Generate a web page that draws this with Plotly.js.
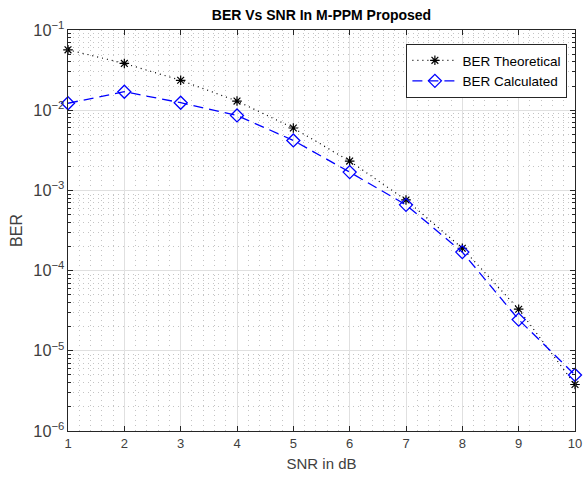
<!DOCTYPE html>
<html>
<head>
<meta charset="utf-8">
<script src="https://cdn.plot.ly/plotly-3.0.1.min.js"></script>
<style>html,body{margin:0;padding:0;background:#fff;}#chart{width:583px;height:482px;}</style>
</head>
<body>
<div id="chart"></div>
<script>
const snrDb = [1, 2, 3, 4, 5, 6, 7, 8, 9, 10];
const berTheoretical = [0.0566, 0.0383, 0.0236, 0.0130, 0.0060, 0.00232, 0.00076, 0.00019, 0.000033, 0.0000038];
const berCalculated = [0.0122, 0.0170, 0.0124, 0.0086, 0.0042, 0.00169, 0.00066, 0.00017, 0.0000245, 0.0000050];
const xTicks = [1, 2, 3, 4, 5, 6, 7, 8, 9, 10];

const font = 'Liberation Sans, Arial, Helvetica, sans-serif';
const traces = [
  {
    x: snrDb, y: berTheoretical, name: 'BER Theoretical', mode: 'lines+markers', cliponaxis: false,
    line: {color: '#000000', dash: '1px,4px', width: 1.2},
    marker: {symbol: 'asterisk-open', size: 8, color: '#000000', line: {color: '#000000', width: 1.2}}
  },
  {
    x: snrDb, y: berCalculated, name: 'BER Calculated', mode: 'lines+markers', cliponaxis: false,
    line: {color: '#0000ff', dash: '10px,6px', width: 1.3},
    marker: {symbol: 'diamond-open', size: 10, color: '#0000ff', line: {color: '#0000ff', width: 1.3}}
  }
];
const layout = {
  width: 583, height: 482,
  margin: {l: 68, r: 8, t: 30, b: 51},
  paper_bgcolor: '#ffffff', plot_bgcolor: '#ffffff',
  font: {family: font, color: '#262626', size: 13},
  title: {text: '<b>BER Vs SNR In M-PPM Proposed</b>', x: 0.5, xref: 'paper', y: 0.978, yanchor: 'top', font: {size: 14, color: '#000000', family: font}},
  showlegend: true,
  legend: {x: 0.985, xanchor: 'right', y: 0.965, yanchor: 'top', bgcolor: '#ffffff', bordercolor: '#262626', borderwidth: 1, itemwidth: 45, font: {size: 13.5, color: '#000000', family: font}, tracegroupgap: 0},
  xaxis: {
    range: [1, 10], tickvals: xTicks, ticktext: xTicks.map(String),
    ticks: 'inside', ticklen: 5, tickcolor: '#262626', tickfont: {size: 13, color: '#404040'},
    showline: true, linecolor: '#262626', linewidth: 1, mirror: 'ticks',
    showgrid: true, gridcolor: '#e0e0e0', gridwidth: 1, zeroline: false,
    minor: {dtick: 0.2, showgrid: true, gridcolor: '#c4c4c4', griddash: '1px,4px', gridwidth: 1},
    title: {text: 'SNR in dB', font: {size: 15, color: '#404040'}, standoff: 8}
  },
  yaxis: {
    type: 'log', range: [-6, -1], dtick: 1, exponentformat: 'power',
    ticks: 'inside', ticklen: 5, tickcolor: '#262626', tickfont: {size: 13, color: '#404040'},
    showline: true, linecolor: '#262626', linewidth: 1, mirror: 'ticks',
    showgrid: true, gridcolor: '#e0e0e0', gridwidth: 1, zeroline: false,
    minor: {dtick: 'D1', showgrid: true, gridcolor: '#c4c4c4', griddash: '1px,4px', gridwidth: 1, ticks: 'inside', ticklen: 3, tickcolor: '#262626'},
    title: {text: 'BER', font: {size: 16, color: '#404040'}, standoff: 6}
  }
};
Plotly.newPlot('chart', traces, layout, {displayModeBar: false, staticPlot: true});
</script>
</body>
</html>
